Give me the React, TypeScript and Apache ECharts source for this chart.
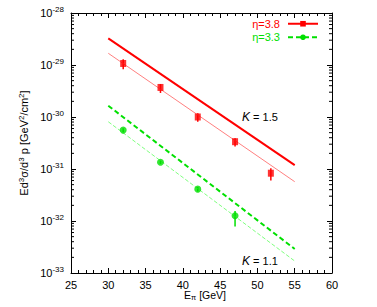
import React, { useEffect, useRef } from "react";
import * as echarts from "echarts";

const xTickMin = 25;
const xTickMax = 60;
const yDecadeMin = -33;
const yDecadeMax = -28;

const red38X = [32, 37, 42, 47, 51.8];
const red38Y = [1.07e-29, 3.7e-30, 1.0e-30, 3.35e-31, 8.3e-32];
const red38Lo = [8.3e-30, 2.9e-30, 8.1e-31, 2.7e-31, 6.0e-32];
const red38Hi = [1.29e-29, 4.3e-30, 1.18e-30, 3.9e-31, 1.03e-31];

const green33X = [32, 37, 42, 47];
const green33Y = [5.6e-31, 1.35e-31, 4.1e-32, 1.26e-32];
const green33Lo = [5.1e-31, 1.25e-31, 3.7e-32, 7.8e-33];
const green33Hi = [6.1e-31, 1.45e-31, 4.5e-32, 1.56e-32];

const curveX = [30, 55];
const redK15 = [3.26e-29, 1.19e-31];
const redK11 = [1.68e-29, 5.7e-32];
const greenK15 = [1.65e-30, 2.9e-33];
const greenK11 = [8.1e-31, 1.7e-33];

const RED = "#ff0000";
const RED_LIGHT = "#ff8080";
const GREEN = "#00e000";
const GREEN_LIGHT = "#80ff80";
const FONT = "Liberation Sans, Arial, Helvetica, sans-serif";

// The log axis works on values scaled so the bottom decade is 10^0 (avoids float underflow issues).
const SHIFT = -yDecadeMin;
const sc = (v: number) => v * Math.pow(10, SHIFT);

function minorValues(): number[] {
  const out: number[] = [];
  for (let e = yDecadeMin; e < yDecadeMax; e++) {
    for (let k = 2; k <= 9; k++) out.push(k * Math.pow(10, e));
  }
  return out;
}

export default function App() {
  const ref = useRef<HTMLDivElement>(null);
  useEffect(() => {
    if (!ref.current) return;
    const chart = echarts.init(ref.current, null, { renderer: "svg" });
    const zip = (xs: number[], ys: number[]) => xs.map((x, i) => [x, sc(ys[i])]);
    const errColor = (c: string) => (params: any, api: any) => {
      const x = api.value(0);
      const a = api.coord([x, api.value(1)]);
      const b = api.coord([x, api.value(2)]);
      return {
        type: "line",
        shape: { x1: a[0], y1: a[1], x2: b[0], y2: b[1] },
        style: { stroke: c, lineWidth: 1.5 },
      };
    };
    const minors = minorValues();
    const axisLabelRich = {
      b: { fontSize: 11, fontFamily: FONT, color: "#000" },
      s: { fontSize: 8, fontFamily: FONT, color: "#000", padding: [0, 0, 7, 0] },
    };
    const yMin = sc(Math.pow(10, yDecadeMin));
    const yMax = sc(Math.pow(10, yDecadeMax));
    chart.setOption({
      animation: false,
      backgroundColor: "#fff",
      grid: { left: 71, right: 45, top: 13, bottom: 34 },
      legend: {
        orient: "vertical",
        right: 58,
        top: 17,
        padding: 0,
        align: "right",
        itemWidth: 30,
        itemHeight: 7,
        itemGap: 0,
        textStyle: { fontFamily: FONT, fontSize: 11, lineHeight: 13.5, padding: [0, 3, 0, 0] },
        data: [
          { name: "η=3.8", textStyle: { color: RED } },
          { name: "η=3.3", textStyle: { color: GREEN } },
        ],
      },
      xAxis: [
        {
          type: "value",
          min: xTickMin,
          max: xTickMax,
          interval: 5,
          axisLine: { lineStyle: { color: "#000", width: 1 } },
          axisTick: { inside: true, length: 5, lineStyle: { color: "#000" } },
          minorTick: { show: true, splitNumber: 5, length: 3, lineStyle: { color: "#000" } },
          splitLine: { show: false },
          axisLabel: { color: "#000", fontSize: 11, fontFamily: FONT, margin: 6 },
        },
        {
          type: "value",
          position: "top",
          min: xTickMin,
          max: xTickMax,
          interval: 5,
          axisLine: { lineStyle: { color: "#000", width: 1 } },
          axisTick: { inside: true, length: 5, lineStyle: { color: "#000" } },
          minorTick: { show: true, splitNumber: 5, length: 3, lineStyle: { color: "#000" } },
          splitLine: { show: false },
          axisLabel: { show: false },
        },
      ],
      yAxis: [
        {
          type: "log",
          logBase: 10,
          min: yMin,
          max: yMax,
          axisLine: { lineStyle: { color: "#000", width: 1 } },
          axisTick: { inside: true, length: 5, lineStyle: { color: "#000" } },
          splitLine: { show: false },
          axisLabel: {
            margin: 7,
            formatter: (v: number) => `{b|10}{s|${Math.round(Math.log10(v)) - SHIFT}}`,
            rich: axisLabelRich,
          },
        },
        {
          type: "log",
          logBase: 10,
          position: "right",
          min: yMin,
          max: yMax,
          axisLine: { lineStyle: { color: "#000", width: 1 } },
          axisTick: { inside: true, length: 5, lineStyle: { color: "#000" } },
          splitLine: { show: false },
          axisLabel: { show: false },
        },
      ],
      graphic: [
        {
          type: "text",
          x: 24,
          y: 143,
          rotation: Math.PI / 2,
          style: {
            text: "Ed{s|3}σ/d{s|3} p [GeV{s|2}/cm{s|2}]",
            fontSize: 11,
            fontFamily: FONT,
            fill: "#000",
            align: "center",
            verticalAlign: "middle",
            rich: {
              s: { fontSize: 8, fontFamily: FONT, padding: [0, 0, 6, 0] },
            },
          },
        },
        {
          type: "text",
          x: 205,
          y: 295,
          style: {
            text: "E{sub|π} [GeV]",
            fontSize: 10.5,
            fontFamily: FONT,
            fill: "#000",
            align: "center",
            verticalAlign: "middle",
            rich: {
              sub: { fontSize: 7.5, fontFamily: FONT, padding: [5, 0, 0, 0] },
            },
          },
        },
        {
          type: "text",
          x: 242,
          y: 117,
          style: {
            text: "{i|K} = 1.5",
            fontSize: 11,
            fontFamily: FONT,
            fill: "#000",
            verticalAlign: "middle",
            rich: { i: { fontSize: 12, fontStyle: "italic", fontFamily: FONT } },
          },
        },
        {
          type: "text",
          x: 242,
          y: 261,
          style: {
            text: "{i|K} = 1.1",
            fontSize: 11,
            fontFamily: FONT,
            fill: "#000",
            verticalAlign: "middle",
            rich: { i: { fontSize: 12, fontStyle: "italic", fontFamily: FONT } },
          },
        },
      ],
      series: [
        {
          name: "η=3.8",
          type: "line",
          data: [],
          symbol: "rect",
          symbolSize: 6,
          itemStyle: { color: RED },
          lineStyle: { color: RED, width: 2 },
        },
        {
          name: "η=3.3",
          type: "line",
          data: [],
          symbol: "circle",
          symbolSize: 6,
          itemStyle: { color: GREEN },
          lineStyle: { color: GREEN, width: 2, type: [5, 3] },
        },
        {
          name: "redK15",
          type: "line",
          data: zip(curveX, redK15),
          symbol: "none",
          lineStyle: { color: RED, width: 2 },
        },
        {
          name: "redK11",
          type: "line",
          data: zip(curveX, redK11),
          symbol: "none",
          lineStyle: { color: RED_LIGHT, width: 1 },
        },
        {
          name: "greenK15",
          type: "line",
          data: zip(curveX, greenK15),
          symbol: "none",
          lineStyle: { color: GREEN, width: 2, type: [5, 3] },
        },
        {
          name: "greenK11",
          type: "line",
          data: zip(curveX, greenK11),
          symbol: "none",
          lineStyle: { color: GREEN_LIGHT, width: 1, type: [4, 2] },
        },
        {
          name: "redErr",
          type: "custom",
          renderItem: errColor(RED),
          data: red38X.map((x, i) => [x, sc(red38Lo[i]), sc(red38Hi[i])]),
          encode: { x: 0, y: [1, 2] },
          z: 3,
        },
        {
          name: "greenErr",
          type: "custom",
          renderItem: errColor(GREEN),
          data: green33X.map((x, i) => [x, sc(green33Lo[i]), sc(green33Hi[i])]),
          encode: { x: 0, y: [1, 2] },
          z: 3,
        },
        {
          name: "redPts",
          type: "scatter",
          data: zip(red38X, red38Y),
          symbol: "rect",
          symbolSize: [6, 7],
          itemStyle: { color: RED },
          z: 4,
        },
        {
          name: "greenPts",
          type: "scatter",
          data: zip(green33X, green33Y),
          symbol: "circle",
          symbolSize: 7,
          itemStyle: { color: GREEN },
          z: 4,
        },
        {
          name: "minorY",
          type: "custom",
          silent: true,
          data: minors.map((v) => [xTickMin, sc(v)]),
          encode: { x: 0, y: 1 },
          renderItem: (params: any, api: any) => {
            const v = api.value(1);
            const l = api.coord([xTickMin, v]);
            const r = api.coord([xTickMax, v]);
            return {
              type: "group",
              children: [
                { type: "line", shape: { x1: l[0], y1: l[1], x2: l[0] + 3, y2: l[1] }, style: { stroke: "#000", lineWidth: 1 } },
                { type: "line", shape: { x1: r[0], y1: r[1], x2: r[0] - 3, y2: r[1] }, style: { stroke: "#000", lineWidth: 1 } },
              ],
            };
          },
        },
      ],
    });
    return () => chart.dispose();
  }, []);
  return <div ref={ref} style={{ width: 377, height: 307, position: "absolute", left: 0, top: 0 }} />;
}
